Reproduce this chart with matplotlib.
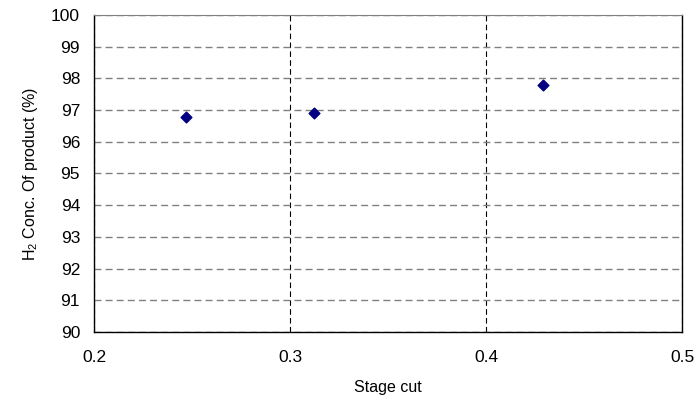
import matplotlib
matplotlib.use('Agg')
import matplotlib.pyplot as plt

stage_cut = [0.247, 0.3124, 0.4292]
h2_conc = [96.79, 96.92, 97.78]

plt.rcParams['font.family'] = ['Liberation Sans', 'DejaVu Sans']
plt.rcParams['mathtext.fontset'] = 'custom'
plt.rcParams['mathtext.rm'] = 'Liberation Sans'
plt.rcParams['mathtext.it'] = 'Liberation Sans'

fig = plt.figure(figsize=(6.96, 4.03), dpi=100)
ax = fig.add_axes([0.135, 0.176, 0.845, 0.787])

ax.scatter(stage_cut, h2_conc, marker='D', s=30, color='#000080', zorder=3)

ax.set_xlim(0.2, 0.5)
ax.set_ylim(90, 100)
ax.set_xticks([0.2, 0.3, 0.4, 0.5])
ax.set_xticklabels(['0.2', '0.3', '0.4', '0.5'])
ax.set_yticks(range(90, 101))

ax.yaxis.grid(True, linestyle=(0, (5, 3)), color='#808080', linewidth=1)
ax.xaxis.grid(True, linestyle=(0, (5, 3)), color='black', linewidth=0.8)
ax.set_axisbelow(True)

ax.tick_params(length=0, labelsize=12.5, colors='black')
ax.tick_params(axis='x', pad=13)
ax.tick_params(axis='y', pad=10)

for side in ['left', 'bottom', 'right']:
    ax.spines[side].set_color('black')
    ax.spines[side].set_linewidth(1)
ax.spines['top'].set_color('#808080')

ax.set_xlabel('Stage cut', fontsize=11.5, labelpad=11)
ax.set_ylabel('H$_2$ Conc. Of product (%)', fontsize=11.5, labelpad=8)

fig.savefig('out.png', dpi=100)
